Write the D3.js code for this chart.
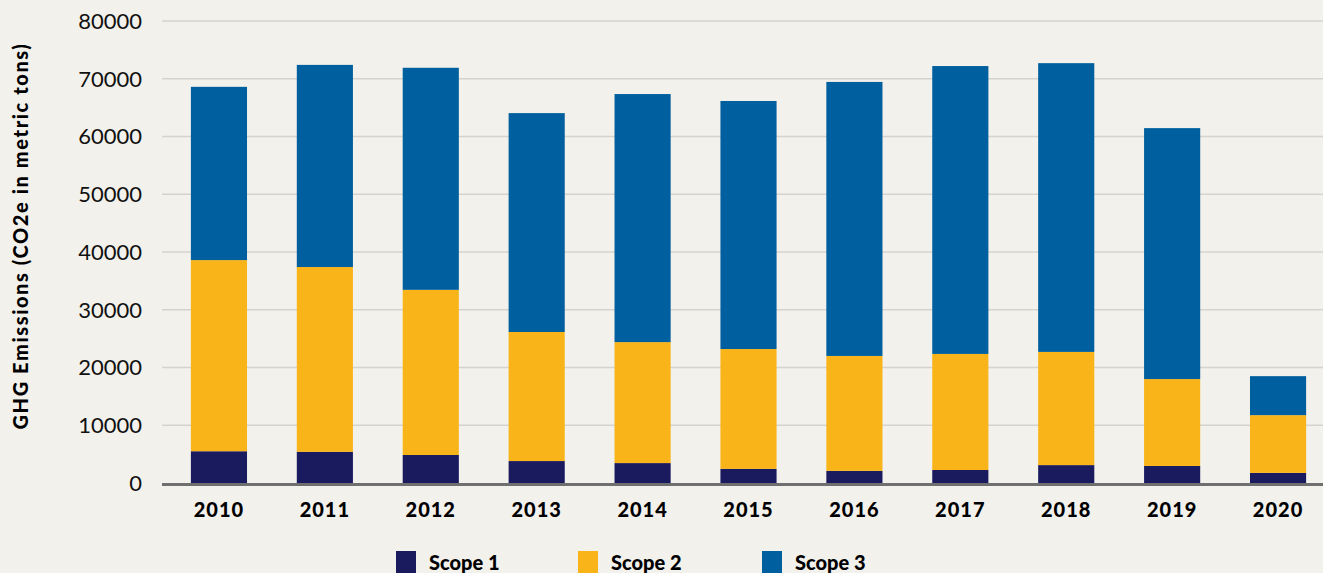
<!DOCTYPE html>
<html><head><meta charset="utf-8">
<script src="https://cdn.jsdelivr.net/npm/d3@7"></script>
<style>
html,body{margin:0;padding:0;background:#f3f1ec;}
svg{display:block;font-family:Lato,"Open Sans",sans-serif;}
</style></head><body>
<svg id="c" width="1323" height="573"></svg>
<script>
const years = ["2010","2011","2012","2013","2014","2015","2016","2017","2018","2019","2020"];
const scope1 = [5500, 5400, 4850, 3800, 3450, 2450, 2100, 2250, 3100, 2950, 1750];
const scope2 = [33100, 32000, 28600, 22350, 20950, 20750, 19900, 20100, 19600, 15050, 10000];
const scope3 = [30000, 35000, 38450, 37900, 42950, 42950, 47450, 49850, 50000, 43450, 6750];
const yTicks = [0,10000,20000,30000,40000,50000,60000,70000,80000];
const seriesNames = ["Scope 1","Scope 2","Scope 3"];
const colors = ["#1a1a5f","#f9b41a","#005f9e"];

const svg = d3.select("#c");
const W = 1323, H = 573;
const x = d3.scaleBand().domain(years).range([166,1331]).paddingInner(0.47).paddingOuter(0.235);
const y = d3.scaleLinear().domain([0,80000]).range([483,21]);

// gridlines
svg.append("g").selectAll("line").data(yTicks.filter(d=>d>0)).join("line")
  .attr("x1",162).attr("x2",W).attr("y1",d=>y(d)).attr("y2",d=>y(d))
  .attr("stroke","#d5d3cf").attr("stroke-width",1.5);

// y axis labels
const yAxis = d3.axisLeft(y).tickValues(yTicks).tickSize(0).tickPadding(0).tickFormat(d=>String(d));
const ya = svg.append("g").attr("transform","translate(142,0)").call(yAxis);
ya.select(".domain").remove();
ya.selectAll("text").attr("font-size",22).attr("fill","#111").attr("font-family","Lato,sans-serif").attr("dy","0.34em");

// stacked bars
const rows = years.map((yr,i)=>({year:yr, s1:scope1[i], s2:scope2[i], s3:scope3[i]}));
const stack = d3.stack().keys(["s1","s2","s3"])(rows);
svg.append("g").selectAll("g").data(stack).join("g").attr("fill",(d,i)=>colors[i])
  .selectAll("rect").data(d=>d).join("rect")
  .attr("x",d=>x(d.data.year)).attr("width",x.bandwidth())
  .attr("y",d=>y(d[1])).attr("height",d=>y(d[0])-y(d[1]));

// baseline
svg.append("line").attr("x1",162).attr("x2",W).attr("y1",y(0)+1.5).attr("y2",y(0)+1.5)
  .attr("stroke","#6f6f6f").attr("stroke-width",3);

// x axis
const xAxis = d3.axisBottom(x).tickSize(0).tickPadding(0);
const xa = svg.append("g").attr("transform","translate(0,517)").call(xAxis);
xa.select(".domain").remove();
xa.selectAll("text").attr("font-size",20).attr("font-weight",900).attr("fill","#000")
  .attr("font-family","Lato,sans-serif").attr("dy",0).attr("letter-spacing","1px");

// y title
svg.append("text").attr("transform","translate(28,236) rotate(-90)")
  .attr("text-anchor","middle").attr("font-size",20).attr("font-weight",900).attr("fill","#000")
  .attr("letter-spacing","1.6px")
  .text("GHG Emissions (CO2e in metric tons)");

// legend
const legX = [396, 578, 762];
const leg = svg.append("g").selectAll("g").data(seriesNames).join("g")
  .attr("transform",(d,i)=>`translate(${legX[i]},551)`);
leg.append("rect").attr("width",20).attr("height",22).attr("fill",(d,i)=>colors[i]);
leg.append("text").attr("x",33).attr("y",19).attr("font-size",20).attr("font-weight",900)
  .attr("fill","#000").text(d=>d);
</script>
</body></html>
